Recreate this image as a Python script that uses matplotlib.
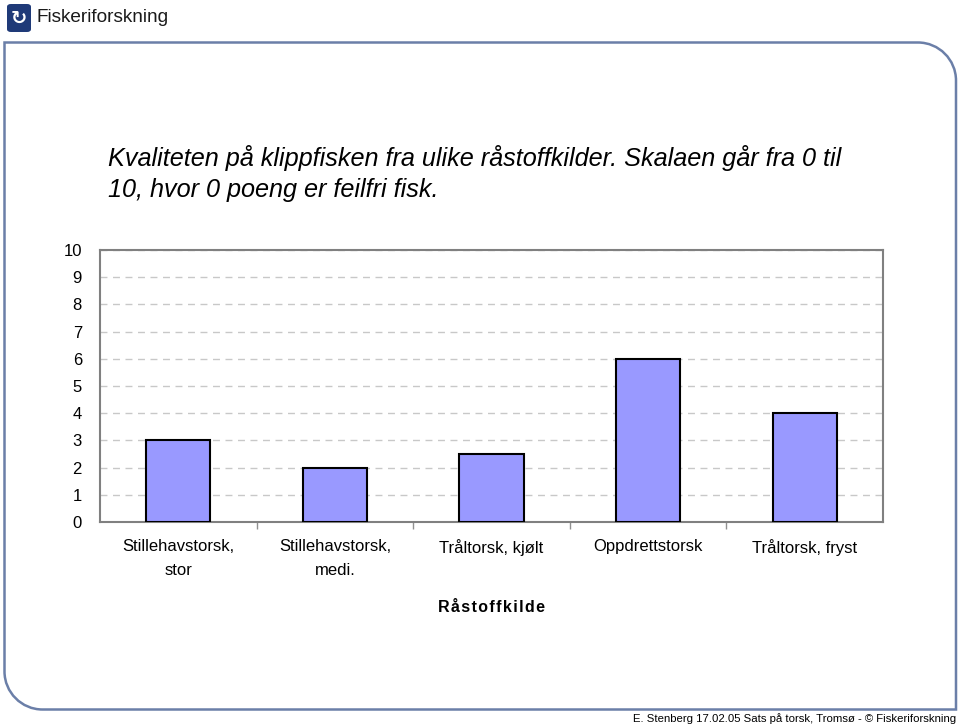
import matplotlib.pyplot as plt
import numpy as np
from matplotlib.path import Path
from matplotlib.patches import PathPatch, FancyBboxPatch

categories = ["Stillehavstorsk,\nstor", "Stillehavstorsk,\nmedi.", "Tråltorsk, kjølt",
              "Oppdrettstorsk", "Tråltorsk, fryst"]
scores = [3, 2, 2.5, 6, 4]
yticks = list(range(0, 11))

plt.rcParams['font.family'] = ['Liberation Sans', 'DejaVu Sans']

W, H = 960, 727
fig = plt.figure(figsize=(9.6, 7.27), dpi=100)

# slide frame: square top-left / bottom-right, rounded top-right / bottom-left
def px(x, y):
    return (x / W, 1 - y / H)

l, t, r, b, rad = 4.5, 42.5, 956, 709.5, 38
k = 0.55
verts = [px(l, t), px(r - rad, t),
         px(r - rad + rad * k, t), px(r, t + rad - rad * k), px(r, t + rad),
         px(r, b),
         px(l + rad, b),
         px(l + rad - rad * k, b), px(l, b - rad + rad * k), px(l, b - rad),
         px(l, t)]
codes = [Path.MOVETO, Path.LINETO,
         Path.CURVE4, Path.CURVE4, Path.CURVE4,
         Path.LINETO, Path.LINETO,
         Path.CURVE4, Path.CURVE4, Path.CURVE4,
         Path.CLOSEPOLY]
frame = PathPatch(Path(verts, codes), transform=fig.transFigure,
                  facecolor='none', edgecolor='#6b7fa8', lw=1.8, zorder=-1)
fig.patches.append(frame)

# logo
fig.patches.append(FancyBboxPatch(px(7, 32), 24 / W, 28 / H, boxstyle="round,pad=0,rounding_size=0.004",
                                  transform=fig.transFigure, facecolor='#1f3a78', edgecolor='none'))
fig.text(19 / W, 1 - 18 / H, "↻", color='white', fontsize=14, ha='center', va='center',
         family='DejaVu Sans', fontweight='bold')
fig.text(37 / W, 1 - 18 / H, "Fiskeriforskning", fontsize=13.7, ha='left', va='center',
         color='#1a1a1a')

# title
fig.text(108 / W, 1 - 158 / H, "Kvaliteten på klippfisken fra ulike råstoffkilder. Skalaen går fra 0 til",
         fontsize=18.2, style='italic', ha='left', va='center')
fig.text(108 / W, 1 - 190 / H, "10, hvor 0 poeng er feilfri fisk.",
         fontsize=18.2, style='italic', ha='left', va='center')

# footer
fig.text(956 / W, 1 - 719 / H, "E. Stenberg 17.02.05 Sats på torsk, Tromsø - © Fiskeriforskning",
         fontsize=8.2, ha='right', va='center')

ax = fig.add_axes([100 / W, 1 - 522 / H, 783 / W, 272 / H])
x = np.arange(len(categories))
ax.bar(x, scores, width=0.41, color='#9999ff', edgecolor='black', linewidth=1.5, zorder=3)
ax.set_xlim(-0.5, len(categories) - 0.5)
ax.set_ylim(0, 10)
ax.set_yticks(yticks)
ax.set_yticklabels([str(v) for v in yticks], fontsize=12)
ax.tick_params(axis='y', length=0, pad=13)
ax.set_xticks(x)
ax.set_xticklabels(categories, fontsize=12, linespacing=1.75, va='top')
ax.tick_params(axis='x', which='major', length=0, pad=12)
ax.set_xticks(np.arange(0.5, len(categories) - 1, 1.0), minor=True)
ax.tick_params(axis='x', which='minor', length=5, color='#909090', width=1, direction='out')
ax.grid(axis='y', color='#c8c8c8', linestyle=(0, (5, 4)), linewidth=1, zorder=0)
for s in ax.spines.values():
    s.set_color('#808080')
    s.set_linewidth(1.5)
ax.set_xlabel("R å s t o f f k i l d e".replace(" ", "\u200a"), fontsize=11.5, fontweight='bold', labelpad=16)

fig.savefig("out.png", dpi=100)
